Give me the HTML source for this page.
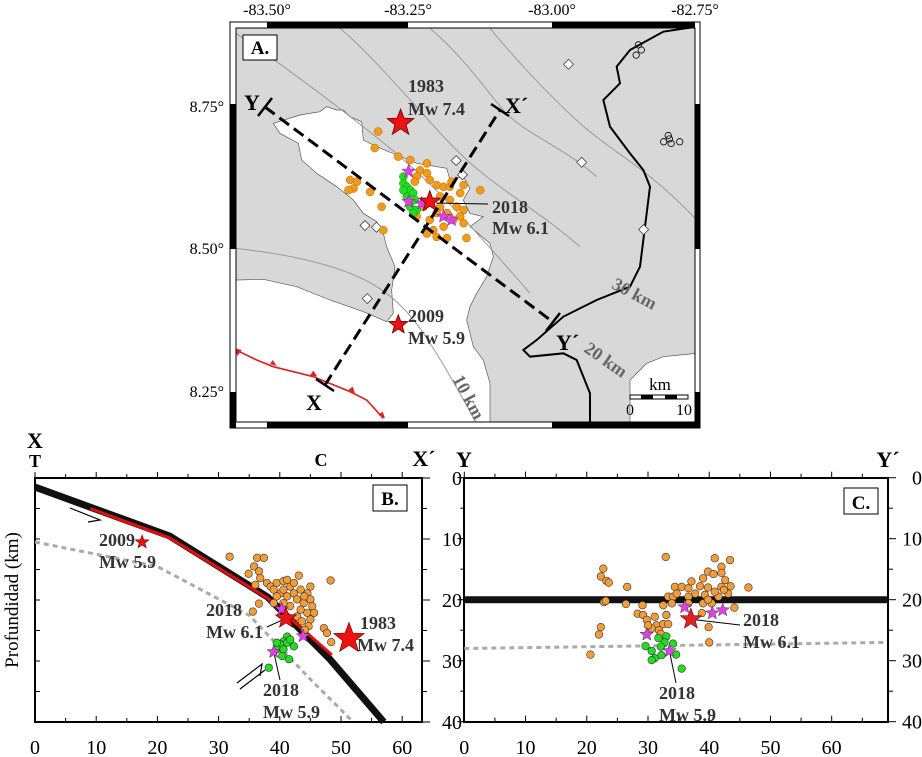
<!DOCTYPE html>
<html><head><meta charset="utf-8"><style>
html,body{margin:0;padding:0;background:#fff}
svg{display:block;font-family:"Liberation Serif",serif}
.b{font-weight:bold}
</style></head><body>
<svg id="fig" width="922" height="757" viewBox="0 0 922 757" xmlns="http://www.w3.org/2000/svg">
<defs><clipPath id="mapclip"><rect x="236" y="28" width="459" height="394"/></clipPath></defs>
<g id="map">
  <rect x="236" y="28" width="459" height="394" fill="#d8d8d8"/>
  <g clip-path="url(#mapclip)">
  <g transform="translate(230,0) scale(0.33333)">
    <path fill="#fff" stroke="#555" stroke-width="2" d="M18,840 L100,838 200,860 300,900 400,935 470,965 490,940 485,870 495,800 470,740 460,700 440,665 400,640 370,600 320,560 260,520 215,480 205,430 150,400 130,370 210,345 270,335 290,320 320,330 340,330 360,350 395,365 400,420 440,440 500,465 560,490 650,505 660,540 700,530 720,565 700,600 720,640 760,650 720,680 780,730 790,770 770,830 740,880 720,920 710,960 720,1000 730,1040 760,1080 780,1150 780,1280 10,1280 Z"/>
    <path fill="#fff" stroke="#555" stroke-width="2" d="M1200,1280 L1200,1140 1250,1090 1300,1070 1400,1060 1400,1280 Z"/>
    <g fill="none" stroke="#999" stroke-width="3">
      <path d="M18,745 C150,760 330,790 440,860 S600,1020 740,1270"/>
      <path d="M18,100 C150,190 300,300 450,420 S700,650 900,880 1170,1140"/>
      <path d="M330,85 C420,160 520,280 650,420 S900,610 1050,740 1270,910"/>
      <path d="M600,85 C700,170 760,260 820,330 S1000,440 1100,530 1330,790"/>
      <path d="M780,85 C850,170 950,280 1050,370 S1250,500 1400,660"/>
    </g>
    <path fill="none" stroke="#000" stroke-width="6" d="M1400,80 L1300,95 1200,150 1160,200 1170,250 1120,300 1140,380 1200,460 1240,510 1260,560 1250,640 1240,720 1230,800 1200,860 1100,900 1000,950 920,1020 880,1050 900,1070 1000,1060 1040,1080 1060,1130 1080,1180 1080,1280"/>
    <path fill="none" stroke="#d22" stroke-width="5" d="M18,1050 L80,1080 130,1100 250,1130 360,1175 410,1200 460,1255"/>
    <g fill="#d22">
      <polygon points="15,1045 35,1050 22,1068"/><polygon points="120,1092 140,1098 128,1080"/><polygon points="240,1126 262,1130 250,1112"/><polygon points="355,1170 375,1180 368,1160"/><polygon points="445,1245 465,1255 458,1235"/>
    </g>
  </g>
  <g transform="translate(230,0)" font-size="18" class="b" fill="#666">
    <text x="382" y="297" transform="rotate(28 400 290)">30 km</text>
    <text x="352" y="362" transform="rotate(35 370 358)">20 km</text>
    <text x="218" y="398" transform="rotate(62 236 392)">10 km</text>
  </g>
  <g id="mapmarks"></g>
  </g>
  <g>
    <rect x="230" y="22" width="470" height="406" fill="none" stroke="#000" stroke-width="1"/>
    <rect x="267" y="22" width="141" height="6" fill="#000"/><rect x="552" y="22" width="143" height="6" fill="#000"/>
    <rect x="267" y="422" width="141" height="6" fill="#000"/><rect x="552" y="422" width="143" height="6" fill="#000"/>
    <rect x="230" y="104" width="6" height="145" fill="#000"/><rect x="230" y="392" width="6" height="36" fill="#000"/>
    <rect x="695" y="104" width="5" height="145" fill="#000"/><rect x="695" y="392" width="5" height="36" fill="#000"/>
    <rect x="236" y="28" width="459" height="394" fill="none" stroke="#000" stroke-width="1"/>
  </g>
  <g font-size="16" text-anchor="middle">
    <text x="267" y="15">-83.50°</text><text x="408" y="15">-83.25°</text><text x="552" y="15">-83.00°</text><text x="695" y="15">-82.75°</text>
  </g>
  <g font-size="16" text-anchor="end">
    <text x="224" y="112">8.75°</text><text x="224" y="254">8.50°</text><text x="224" y="397">8.25°</text>
  </g>
  <rect x="243" y="35" width="34" height="25" fill="#fff" stroke="#000"/>
  <text x="260" y="54" text-anchor="middle" font-size="19" class="b">A.</text>
  <g stroke="#000" fill="none">
    <line x1="265" y1="107" x2="553" y2="322" stroke-width="3" stroke-dasharray="12,6"/>
    <line x1="325" y1="385" x2="500" y2="110" stroke-width="3" stroke-dasharray="12,6"/>
    <line x1="258" y1="116" x2="272" y2="98" stroke-width="2.5"/>
    <line x1="546" y1="331" x2="560" y2="313" stroke-width="2.5"/>
    <line x1="316" y1="379" x2="334" y2="391" stroke-width="2.5"/>
    <line x1="491" y1="104" x2="509" y2="116" stroke-width="2.5"/>
  </g>
  <g font-size="22" class="b">
    <text x="244" y="110">Y</text><text x="505" y="113">X´</text><text x="306" y="410">X</text><text x="556" y="350">Y´</text>
  </g>
  <g font-size="18" class="b" fill="#333">
    <text x="408" y="92">1983</text><text x="408" y="115">Mw 7.4</text>
    <text x="492" y="213">2018</text><text x="492" y="234">Mw 6.1</text>
    <text x="408" y="322">2009</text><text x="408" y="344">Mw 5.9</text>
  </g>
  <line x1="436" y1="203" x2="488" y2="204" stroke="#000" stroke-width="1"/>
  <g>
    <text x="660" y="390" font-size="17" text-anchor="middle">km</text>
    <rect x="630" y="395" width="58" height="4" fill="#fff" stroke="#000"/>
    <rect x="641" y="395" width="12" height="4" fill="#000"/><rect x="665" y="395" width="12" height="4" fill="#000"/>
    <text x="630" y="415" font-size="16" text-anchor="middle">0</text><text x="684" y="415" font-size="16" text-anchor="middle">10</text>
  </g>
</g>

<g id="panelB">
  <rect x="35" y="478" width="387" height="244" fill="#fff" stroke="#000" stroke-width="2"/>
  <g id="bAxes"></g>
  <g id="bMarks"></g>
  <rect x="373" y="485" width="34" height="26" fill="#fff" stroke="#000"/>
  <text x="390" y="505" font-size="19" class="b" text-anchor="middle">B.</text>
  <text x="35" y="448" font-size="22" class="b" text-anchor="middle">X</text>
  <text x="35" y="467" font-size="18" class="b" text-anchor="middle">T</text>
  <text x="321" y="466" font-size="18" class="b" text-anchor="middle">C</text>
  <text x="424" y="466" font-size="22" class="b" text-anchor="middle">X´</text>
  <text transform="translate(18,600) rotate(-90)" font-size="19" text-anchor="middle">Profundidad (km)</text>
  <g font-size="18" class="b" fill="#333">
    <text x="99" y="546">2009</text><text x="99" y="568">Mw 5.9</text>
    <text x="206" y="616">2018</text><text x="206" y="638">Mw 6.1</text>
    <text x="360" y="629">1983</text><text x="357" y="651">Mw 7.4</text>
    <text x="263" y="696">2018</text><text x="263" y="718">Mw 5.9</text>
  </g>
  <g stroke="#000" stroke-width="1.2" fill="none">
    <path d="M70,508 L100,520 L88,522"/>
    <path d="M237,683 L262,664 L260,676"/><path d="M240,689 L265,670"/>
  </g>
</g>

<g id="panelC">
  <rect x="464" y="478" width="424" height="244" fill="#fff" stroke="#000" stroke-width="2"/>
  <g id="cAxes"></g>
  <g id="cMarks"></g>
  <rect x="844" y="488" width="34" height="26" fill="#fff" stroke="#000"/>
  <text x="861" y="509" font-size="19" class="b" text-anchor="middle">C.</text>
  <text x="464" y="467" font-size="22" class="b" text-anchor="middle">Y</text>
  <text x="888" y="467" font-size="22" class="b" text-anchor="middle">Y´</text>
  <g font-size="18" class="b" fill="#333">
    <text x="743" y="626">2018</text><text x="743" y="648">Mw 6.1</text>
    <text x="659" y="699">2018</text><text x="659" y="721">Mw 5.9</text>
  </g>
</g>
</svg>
<script>
const mapOrangeLon=[-83.306,-83.312,-83.271,-83.250,-83.221,-83.233,-83.239,-83.216,-83.204,-83.192,-83.181,-83.157,-83.128,-83.163,-83.198,-83.181,-83.169,-83.157,-83.163,-83.175,-83.157,-83.192,-83.210,-83.221,-83.204,-83.186,-83.152,-83.239,-83.355,-83.343,-83.349,-83.358,-83.320,-83.300,-83.297,-83.242,-83.186,-83.204,-83.227,-83.198,-83.216,-83.178,-83.221];
const mapOrangeLat=[8.707,8.678,8.663,8.657,8.651,8.639,8.628,8.622,8.613,8.610,8.610,8.613,8.604,8.599,8.593,8.587,8.575,8.569,8.558,8.552,8.546,8.540,8.534,8.528,8.522,8.520,8.520,8.558,8.622,8.619,8.607,8.604,8.601,8.575,8.534,8.619,8.564,8.564,8.575,8.575,8.552,8.619,8.634];
const mapGreenLon=[-83.262,-83.262,-83.256,-83.250,-83.245,-83.256,-83.242,-83.250,-83.239,-83.245,-83.262];
const mapGreenLat=[8.628,8.616,8.610,8.604,8.599,8.593,8.587,8.575,8.569,8.564,8.604];
const mapMagentaLon=[-83.253,-83.253,-83.230,-83.192,-83.178];
const mapMagentaLat=[8.637,8.584,8.581,8.558,8.552];
const mapMainLon=[-83.267,-83.216,-83.271];
const mapMainLat=[8.722,8.584,8.368];
const mapMainSize=[14,11,10];
const stationLon=[-82.974,-83.170,-83.159,-82.951,-82.843,-83.329,-83.309,-83.325];
const stationLat=[8.825,8.656,8.631,8.653,8.535,8.542,8.539,8.414];
const otherLon=[-82.852,-82.847,-82.856,-82.808,-82.798,-82.795,-82.780,-82.800];
const otherLat=[8.859,8.850,8.841,8.689,8.694,8.686,8.689,8.700];

const bOrangeX=[31.8,36.3,37.4,35.8,36.6,34.9,36.8,36,37.9,38.5,39.5,40.6,41.2,43.1,45,48.3,36.6,35.6,39,40.1,41.7,42.3,43.4,44.5,41.2,42.8,43.9,45,41.7,43.4,44.5,45.6,45,44.7,44.1,47.2,47.7,48.4,40.6,39.5,42.8,43.6,39,40.6,42.3,44,45.3];
const bOrangeD=[12.9,13.1,13.1,14.5,15.3,15.7,16.4,17.5,17.2,17.8,17.2,16.9,16.7,16,17.8,16.8,20.6,21.9,18.3,18.9,17.8,18.9,18.3,18.9,19.4,19.9,20.5,19.9,21,21.6,22.1,22.1,23.2,24.3,24.9,24.6,25.4,26.9,18.3,19.4,22.7,23.5,20.5,20.5,17.2,19.4,21];
const bGreenX=[41.2,40.6,40.1,39.5,40.6,40.4,41.5,42.3,38.2,41.2,41.7,39.5];
const bGreenD=[26,26.8,27.3,28.1,28.1,29.2,29.7,27.6,31.1,27,26.5,27];
const bMagX=[40.3,43.8,39];
const bMagD=[21.5,25.9,28.5];
const bMainX=[17.5,41,51.3];
const bMainD=[10.5,23,26.3];
const bMainSize=[7,11,16];
const bSlabX=[0,22,38,48,57];
const bSlabD=[1.5,9.5,19.5,29.5,40];
const bSlipX=[9,22,38,48.5];
const bSlipD=[5,9.8,19.7,29];
const bMohoX=[0,20,35,45,52];
const bMohoD=[10.5,14.5,22.5,33,40];
const bXTicks=[0,10,20,30,40,50,60];
const depthTicks=[0,10,20,30,40];

const cOrangeX=[32.9,22.7,22.3,23.2,23.6,26.6,22.8,23.1,26.4,22.3,22,20.6,29.1,28.3,29.2,29.8,31.1,31.4,30.6,30,31.8,32.1,32.5,33.3,33,32.5,33.3,34.1,34.4,35.5,36.6,37.1,37.7,36.6,34.7,33.9,38.5,39,39.8,40.7,40.9,43.4,42,42,42.6,42,43.1,39.8,39.3,39,40.4,41.5,39.8,43.5,46.4,44.1,39.9,40,38.8,40.9,42.4,36.6];
const cOrangeD=[13,14.9,16.2,16.9,17.2,17.9,20.4,20.2,20.7,24.5,25.7,29,20.9,22.3,22.5,23.3,22.8,24.2,24.7,24.2,25,25.6,24,24,22.5,20.9,19.5,19.5,17.9,17.9,18.1,17,19,19.5,19,20.6,17.8,16.5,15.4,15.8,13.2,13.5,14.6,15.6,16.8,17.9,19,18,19.2,20.6,20.6,19.5,20,17.8,18,21.3,24.5,27,22.2,18.7,18.4,20.6];
const cGreenX=[31.7,33,32.7,34.1,29.6,32.1,30.6,32.2,34.6,31.1,30.6,35.5];
const cGreenD=[26.3,26,27,27.2,27.6,27.7,28.4,29.1,29,29.6,29.9,31.3];
const cMagX=[29.8,36,40.5,42.2,33.5];
const cMagD=[25.7,21.2,22.2,21.7,28.4];
const cMainX=[37];
const cMainD=[23.2];
const cInterfaceD=[20];
const cMohoX=[0,69];
const cMohoD=[28,27];
const cXTicks=[0,10,20,30,40,50,60];

const NS="http://www.w3.org/2000/svg";
function mk(parent,tag,attrs){const e=document.createElementNS(NS,tag);for(const k in attrs)e.setAttribute(k,attrs[k]);parent.appendChild(e);return e;}
function starPts(cx,cy,r){let p=[];for(let i=0;i<10;i++){const rr=i%2?r*0.42:r;const a=-Math.PI/2+i*Math.PI/5;p.push((cx+rr*Math.cos(a)).toFixed(1)+","+(cy+rr*Math.sin(a)).toFixed(1));}return p.join(" ");}

const mx=lon=>267+(lon+83.5)/0.25*143.3;
const my=lat=>107+(8.75-lat)/0.25*142.5;
const mm=document.getElementById('mapmarks');
otherLon.forEach((v,i)=>{const e=mk(mm,'circle',{cx:mx(v),cy:my(otherLat[i]),r:3.2,fill:'none',stroke:'#000','stroke-width':0.8});

});
stationLon.forEach((v,i)=>{const x=mx(v),y=my(stationLat[i]);const e=mk(mm,'polygon',{points:`${x},${y-5} ${x+5},${y} ${x},${y+5} ${x-5},${y}`,fill:'#fff',stroke:'#444','stroke-width':0.8});

});
mapOrangeLon.forEach((v,i)=>{const e=mk(mm,'circle',{cx:mx(v),cy:my(mapOrangeLat[i]),r:4,fill:'#f29a1c',stroke:'#b06a00','stroke-width':0.5});

});
mapGreenLon.forEach((v,i)=>{const e=mk(mm,'circle',{cx:mx(v),cy:my(mapGreenLat[i]),r:4,fill:'#22dd22',stroke:'#118811','stroke-width':0.5});

});
mapMagentaLon.forEach((v,i)=>{const e=mk(mm,'polygon',{points:starPts(mx(v),my(mapMagentaLat[i]),7),fill:'#e040e8',stroke:'#802080','stroke-width':0.5});

});
mapMainLon.forEach((v,i)=>{const e=mk(mm,'polygon',{points:starPts(mx(v),my(mapMainLat[i]),mapMainSize[i]),fill:'#ee1111',stroke:'#600','stroke-width':0.8});

});

function section(axesId,marksId,x0,y0,w,sx,sy,xt,opts){
  const X=k=>x0+k*sx, Y=d=>y0+d*sy;
  const ax=document.getElementById(axesId), g=document.getElementById(marksId);
  const bottom=Y(40);
  for(let k=0;k*sx<=w+0.1;k+=5){
    mk(ax,'line',{x1:X(k),y1:y0,x2:X(k),y2:y0-(k%10?4:6),stroke:'#000'});
    mk(ax,'line',{x1:X(k),y1:bottom,x2:X(k),y2:bottom-(k%10?4:6),stroke:'#000'});
  }
  xt.forEach(t=>{const e=mk(ax,'text',{x:X(t),y:754,'font-size':20,'text-anchor':'middle'});e.textContent=t;
  
  });
  for(let d=0;d<=40;d+=5){
    mk(ax,'line',{x1:x0,y1:Y(d),x2:x0+(opts.leftOut?-(d%10?4:7):5),y2:Y(d),stroke:'#000'});
    mk(ax,'line',{x1:x0+w,y1:Y(d),x2:x0+w+(d%10?5:8),y2:Y(d),stroke:'#000'});
  }
  depthTicks.forEach(d=>{const e=mk(ax,'text',{x:x0+w+opts.labOff,y:Y(d)+7,'font-size':20,'text-anchor':'end'});e.textContent=d;
  
  });
  return {X,Y,g};
}

const B=section('bAxes','bMarks',35,478,387,6.12,6.1,bXTicks,{leftOut:false,labOff:40});
const line=(xs,ds,S)=>xs.map((v,i)=>S.X(v).toFixed(1)+","+S.Y(ds[i]).toFixed(1)).join(" ");
let e;
e=mk(B.g,'polyline',{points:line(bMohoX,bMohoD,B),fill:'none',stroke:'#aaa','stroke-width':3,'stroke-dasharray':'5,4'});


e=mk(B.g,'polyline',{points:line(bSlabX,bSlabD,B),fill:'none',stroke:'#111','stroke-width':7});


e=mk(B.g,'polyline',{points:line(bSlipX,bSlipD,B),fill:'none',stroke:'#e01010','stroke-width':3});


bOrangeX.forEach((v,i)=>{const c=mk(B.g,'circle',{cx:B.X(v),cy:B.Y(bOrangeD[i]),r:3.8,fill:'#f39c3a',stroke:'#333','stroke-width':0.6});

});
bGreenX.forEach((v,i)=>{const c=mk(B.g,'circle',{cx:B.X(v),cy:B.Y(bGreenD[i]),r:3.8,fill:'#22dd22',stroke:'#333','stroke-width':0.6});

});
mk(B.g,'line',{x1:B.X(41),y1:B.Y(23),x2:267,y2:627,stroke:'#000','stroke-width':1});
mk(B.g,'line',{x1:B.X(39),y1:B.Y(28.5),x2:280,y2:680,stroke:'#000','stroke-width':1});
bMagX.forEach((v,i)=>{const c=mk(B.g,'polygon',{points:starPts(B.X(v),B.Y(bMagD[i]),7),fill:'#e040e8',stroke:'#333','stroke-width':0.5});

});
bMainX.forEach((v,i)=>{const c=mk(B.g,'polygon',{points:starPts(B.X(v),B.Y(bMainD[i]),bMainSize[i]),fill:'#ee1111',stroke:'#600','stroke-width':0.6});

});

const C=section('cAxes','cMarks',464.3,477.7,423.7,6.123,6.1,cXTicks,{leftOut:true,labOff:34});
e=mk(C.g,'polyline',{points:line(cMohoX,cMohoD,C),fill:'none',stroke:'#aaa','stroke-width':3,'stroke-dasharray':'5,4'});


e=mk(C.g,'line',{x1:464.3,x2:888,y1:C.Y(cInterfaceD[0]),y2:C.Y(cInterfaceD[0]),stroke:'#111','stroke-width':7});


cOrangeX.forEach((v,i)=>{const c=mk(C.g,'circle',{cx:C.X(v),cy:C.Y(cOrangeD[i]),r:3.8,fill:'#f39c3a',stroke:'#333','stroke-width':0.6});

});
cGreenX.forEach((v,i)=>{const c=mk(C.g,'circle',{cx:C.X(v),cy:C.Y(cGreenD[i]),r:3.8,fill:'#22dd22',stroke:'#333','stroke-width':0.6});

});
mk(C.g,'line',{x1:C.X(37),y1:C.Y(23.2),x2:740,y2:625,stroke:'#000','stroke-width':1});
mk(C.g,'line',{x1:C.X(33.5),y1:C.Y(28.4),x2:676,y2:683,stroke:'#000','stroke-width':1});
cMagX.forEach((v,i)=>{const c=mk(C.g,'polygon',{points:starPts(C.X(v),C.Y(cMagD[i]),7),fill:'#e040e8',stroke:'#333','stroke-width':0.5});

});
cMainX.forEach((v,i)=>{const c=mk(C.g,'polygon',{points:starPts(C.X(v),C.Y(cMainD[i]),11),fill:'#dd2222',stroke:'#600','stroke-width':0.6});

});
</script>
</body></html>
